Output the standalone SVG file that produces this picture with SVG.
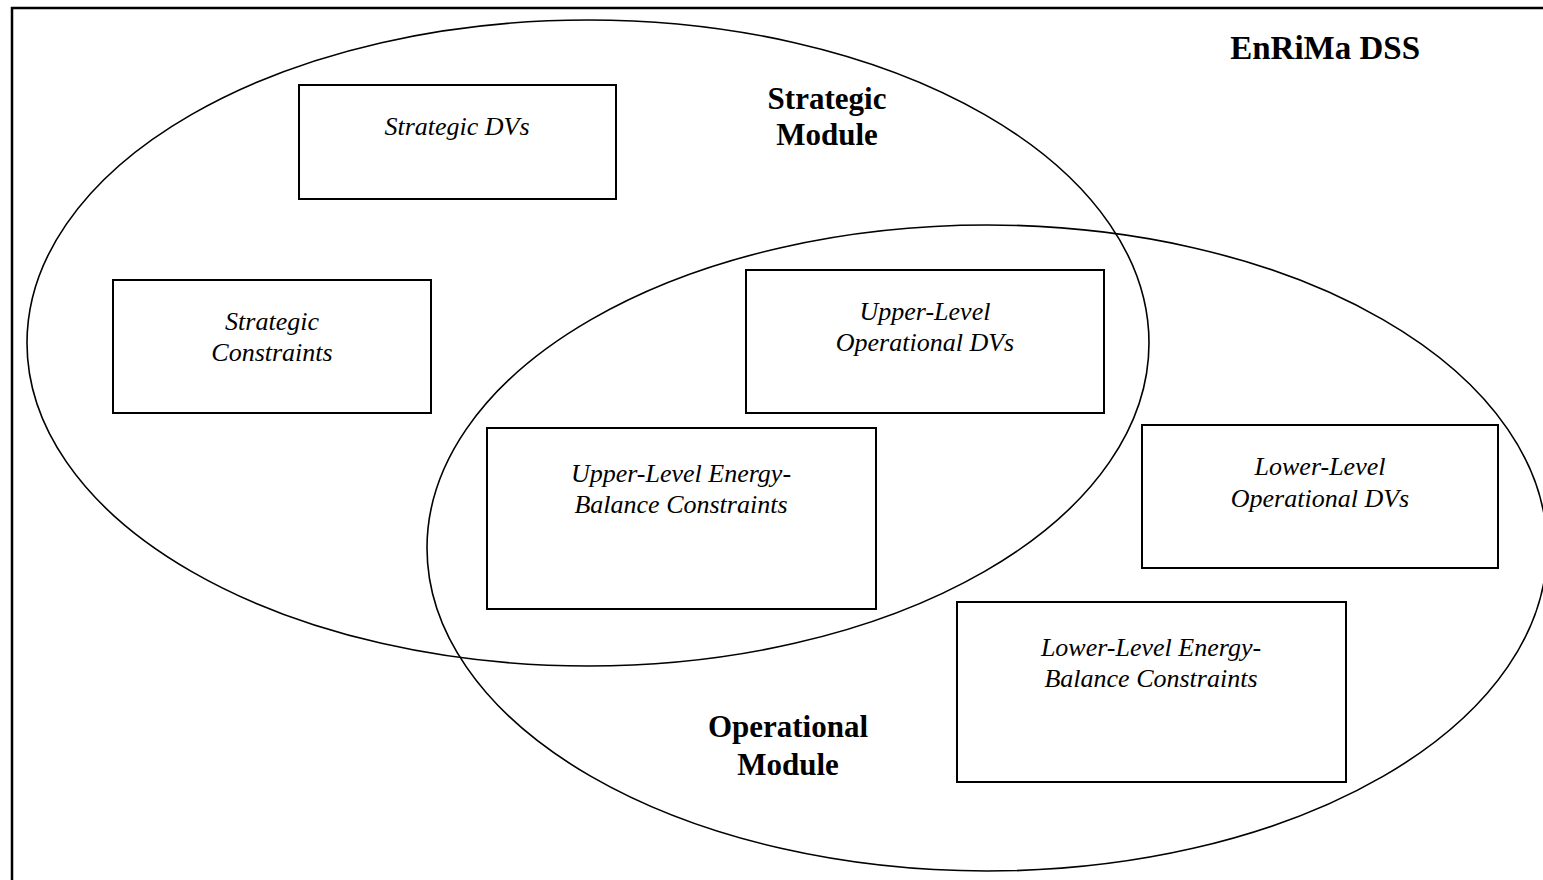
<svg xmlns="http://www.w3.org/2000/svg" width="1543" height="880" viewBox="0 0 1543 880">
<style>
.box{fill:#fff;stroke:#000;stroke-width:2}
.ell{fill:none;stroke:#000;stroke-width:1.6}
.it{font-family:"Liberation Serif","Times New Roman",serif;font-style:italic;font-size:26px;fill:#000;text-anchor:middle}
.bd{font-family:"Liberation Serif","Times New Roman",serif;font-weight:bold;font-size:31px;fill:#000;text-anchor:middle}
</style>
<rect x="0" y="0" width="1543" height="880" fill="#fff"/>
<rect x="12" y="8" width="1540" height="885" fill="none" stroke="#000" stroke-width="2.5"/>
<g id="boxes">
<g id="strategic-dvs"><rect class="box" x="299" y="85" width="317" height="114"/><text class="it" x="457" y="135">Strategic DVs</text></g>
<g id="strategic-constraints"><rect class="box" x="113" y="280" width="318" height="133"/><text class="it" x="272" y="330">Strategic</text><text class="it" x="272" y="361">Constraints</text></g>
<g id="upper-level-dvs"><rect class="box" x="746" y="270" width="358" height="143"/><text class="it" x="925" y="320">Upper-Level</text><text class="it" x="925" y="351">Operational DVs</text></g>
<g id="upper-level-eb"><rect class="box" x="487" y="428" width="389" height="181"/><text class="it" x="681" y="482">Upper-Level Energy-</text><text class="it" x="681" y="513">Balance Constraints</text></g>
<g id="lower-level-dvs"><rect class="box" x="1142" y="425" width="356" height="143"/><text class="it" x="1320" y="475">Lower-Level</text><text class="it" x="1320" y="507">Operational DVs</text></g>
<g id="lower-level-eb"><rect class="box" x="957" y="602" width="389" height="180"/><text class="it" x="1151" y="656">Lower-Level Energy-</text><text class="it" x="1151" y="687">Balance Constraints</text></g>
</g>
<g id="modules">
<g id="strategic-module"><ellipse class="ell" cx="588" cy="343" rx="561" ry="323"/><text class="bd" x="827" y="109">Strategic</text><text class="bd" x="827" y="145">Module</text></g>
<g id="operational-module"><ellipse class="ell" cx="987" cy="548" rx="560" ry="323"/><text class="bd" x="788" y="737">Operational</text><text class="bd" x="788" y="775">Module</text></g>
</g>
<g id="connectors"></g>
<g id="title"><text class="bd" x="1420" y="59" style="text-anchor:end;font-size:33px">EnRiMa DSS</text></g>
</svg>
